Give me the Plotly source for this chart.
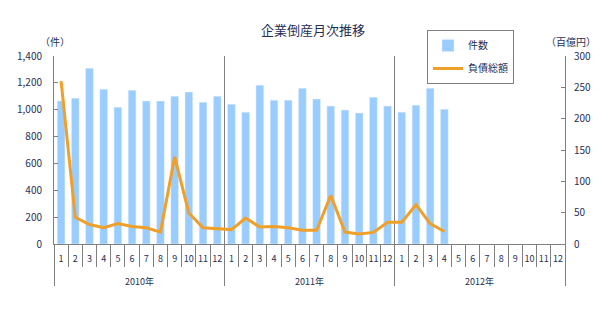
import plotly.graph_objects as go

years = ["2010年", "2011年", "2012年"]
months = [str(m) for m in range(1, 13)]

# 件数 (left axis), Jan 2010 - Apr 2012
counts = [1065, 1086, 1309, 1153, 1019, 1145, 1064, 1064, 1101, 1131, 1056, 1101,
          1041, 982, 1183, 1071, 1071, 1160, 1079, 1027, 997, 975, 1093, 1027,
          982, 1034, 1160, 1004]
# 負債総額 (right axis, 百億円)
debts = [260, 42.5, 31, 26, 32.5, 28, 26, 19, 139, 49.5, 26, 24,
         23, 41.5, 27, 28, 26, 22, 22, 77.5, 19, 16, 18.5, 34.6,
         34.6, 62.7, 32.5, 20]

TXT = "#1F2F56"
GRID = "#808080"
FONT = "Noto Sans CJK JP"

W, H = 615, 310
ML, MR, MT, MB = 54, 50, 56, 66
PW, PH = W - ML - MR, H - MT - MB

def dom_x(px):
    return (px - ML) / PW

def dom_y(py):  # py measured from top of page
    return (H - MB - py) / PH

n_total = len(years) * len(months)
pos_all = list(range(n_total))
month_labels = [months[i % 12] for i in pos_all]
pos_data = pos_all[:len(counts)]
bounds = [i - 0.5 for i in range(n_total + 1)]
year_bounds = [i * 12 - 0.5 for i in range(len(years) + 1)]
year_centers = [i * 12 + 5.5 for i in range(len(years))]

fig = go.Figure()
fig.add_trace(go.Bar(x=pos_data, y=counts, name="件数", marker_color="#99CCFF",
                     legendgroup="a"))
fig.add_trace(go.Scatter(x=pos_data, y=debts, name="負債総額", yaxis="y2",
                         mode="lines", line=dict(color="#F0A028", width=3),
                         legendgroup="b"))
# helper traces so the overlay axes are drawn
fig.add_trace(go.Scatter(x=[None], y=[None], xaxis="x2", showlegend=False, hoverinfo="skip"))
fig.add_trace(go.Scatter(x=[None], y=[None], xaxis="x3", showlegend=False, hoverinfo="skip"))

rng = [-0.5, n_total - 0.5]
fig.update_layout(
    width=W, height=H,
    margin=dict(l=ML, r=MR, t=MT, b=MB),
    paper_bgcolor="white", plot_bgcolor="white",
    font=dict(family=FONT, color=TXT, size=10),
    bargap=0.46,
    title=dict(text="企業倒産月次推移", x=313 / W, xref="container", y=1 - 30 / H,
               yanchor="middle", xanchor="center", font=dict(size=13, color=TXT)),
    xaxis=dict(range=rng, tickmode="array", tickvals=pos_all, ticktext=month_labels,
               ticks="", showgrid=False, zeroline=False, showline=True,
               linecolor=GRID, linewidth=1, tickfont=dict(size=9),
               ticklabelstandoff=6),
    xaxis2=dict(range=rng, overlaying="x", anchor="y", side="bottom",
                tickmode="array", tickvals=bounds, ticks="outside", ticklen=22,
                tickcolor=GRID, showticklabels=False, showgrid=False,
                zeroline=False, showline=False),
    xaxis3=dict(range=rng, overlaying="x", anchor="y", side="bottom",
                tickmode="array", tickvals=year_bounds, ticks="outside", ticklen=41,
                tickcolor=GRID, showticklabels=False, showgrid=True,
                gridcolor=GRID, gridwidth=1, zeroline=False, showline=False),
    yaxis=dict(range=[0, 1400], dtick=200, tickformat=",", ticks="inside",
               ticklen=4, tickcolor=GRID, showline=True, linecolor=GRID,
               showgrid=False, zeroline=False, tickfont=dict(size=10),
               ticklabelstandoff=9),
    yaxis2=dict(range=[0, 300], dtick=50, overlaying="y", side="right",
                ticks="inside", ticklen=4, tickcolor=GRID, showline=True,
                linecolor=GRID, showgrid=False, zeroline=False,
                tickfont=dict(size=10), ticklabelstandoff=6),
    legend=dict(x=dom_x(427), y=dom_y(30), xanchor="left", yanchor="top",
                bgcolor="white", bordercolor=GRID, borderwidth=1,
                font=dict(size=10, color=TXT), traceorder="grouped",
                tracegroupgap=4),
    showlegend=True,
)

for yr, c in zip(years, year_centers):
    fig.add_annotation(x=c, y=dom_y(281), xref="x", yref="paper", text=yr,
                       showarrow=False, font=dict(size=9, color=TXT), yanchor="middle")

fig.add_annotation(x=dom_x(55), y=dom_y(42), xref="paper", yref="paper",
                   text="（件）", showarrow=False, xanchor="center", yanchor="middle",
                   font=dict(size=10, color=TXT))
fig.add_annotation(x=dom_x(571), y=dom_y(42), xref="paper", yref="paper",
                   text="（百億円）", showarrow=False, xanchor="center", yanchor="middle",
                   font=dict(size=10, color=TXT))

fig.write_html("out.html")
